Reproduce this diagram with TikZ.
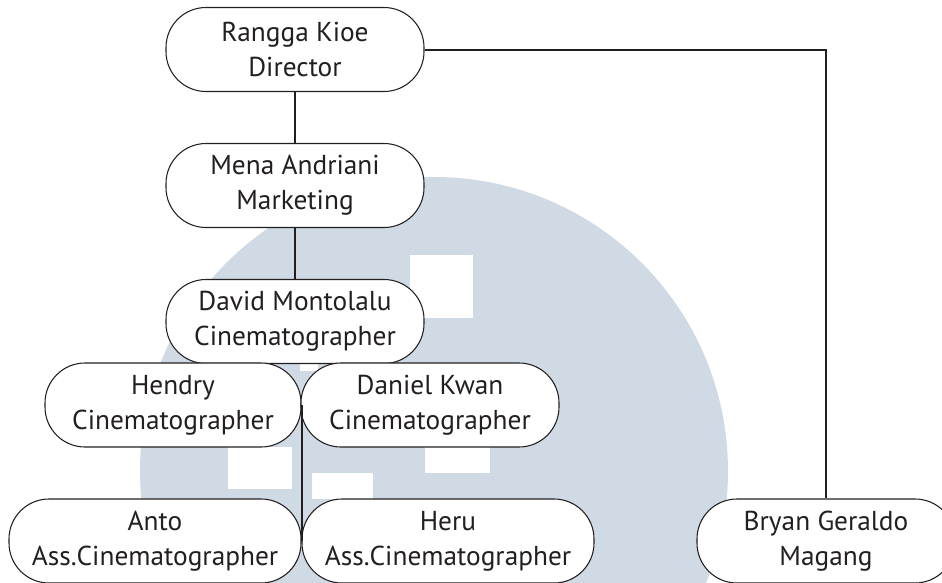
\documentclass[tikz,border=0pt]{standalone}
\usepackage{fontspec}
\setmainfont{PT Sans}
\definecolor{ink}{HTML}{231F20}
\definecolor{wm}{RGB}{207,218,228}
\tikzset{
  person/.style={draw=ink, line width=0.8pt, fill=white, rounded corners=30pt,
    minimum width=193.5pt, minimum height=63pt, inner sep=0pt, align=center,
    text=ink, font=\fontsize{20.5}{26.5}\selectfont},
  wide/.style={person, minimum width=219pt},
  conn/.style={draw=ink, line width=1.5pt}
}
\begin{document}
\begin{tikzpicture}[x=0.75pt,y=-0.75pt]
\useasboundingbox (0,0) rectangle (942,582);
% watermark
\fill[wm] (434,471) circle [radius=220.5pt];
\fill[white] (410,255) rectangle (473,318);
\fill[white] (228,447) rectangle (292,489);
\fill[white] (312,473) rectangle (373,499);
\fill[white] (425,447) rectangle (490,473);
\fill[white] (300,355) rectangle (318,371);
% people
\node[person] (rangga) at (295,49.5) {Rangga Kioe\\Director};
\node[person] (mena) at (295,185.5) {Mena Andriani\\Marketing};
\node[person] (david) at (295,321.5) {David Montolalu\\Cinematographer};
\node[person, minimum width=192pt] (hendry) at (173,405) {Hendry\\Cinematographer};
\node[person] (daniel) at (430,405) {Daniel Kwan\\Cinematographer};
\node[wide] (anto) at (155,541) {Anto\\Ass.Cinematographer};
\node[wide] (heru) at (448,541) {Heru\\Ass.Cinematographer};
\node[person] (bryan) at (826,541) {Bryan Geraldo\\Magang};
% connectors
\draw[conn] (rangga.south) -- (mena.north);
\draw[conn] (mena.south) -- (david.north);
\draw[conn] (hendry.east) -- (anto.east);
\draw[conn] (rangga.east) -| (bryan.north);
\end{tikzpicture}
\end{document}
